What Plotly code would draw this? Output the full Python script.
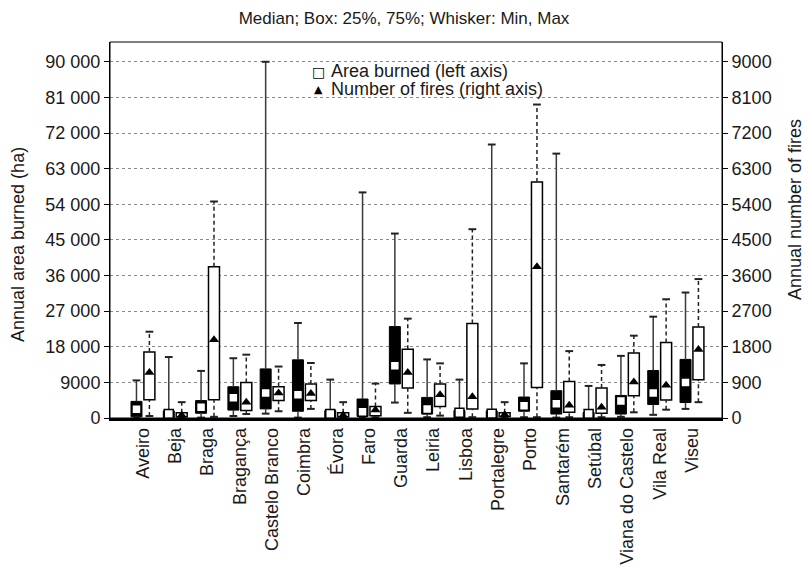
import plotly.graph_objects as go

# ---------------- data ----------------
provinces = ["Aveiro", "Beja", "Braga", "Bragança", "Castelo Branco", "Coimbra",
             "Évora", "Faro", "Guarda", "Leiria", "Lisboa", "Portalegre", "Porto",
             "Santarém", "Setúbal", "Viana do Castelo", "Vila Real", "Viseu"]

# Annual area burned (ha) – left axis
area_min = [100, 0, 100, 500, 1100, 100, 0, 100, 3900, 200, 0, 0, 200, 100, 0, 300, 800, 2300]
area_q1 = [300, 100, 1200, 2000, 2300, 1700, 50, 400, 8600, 1000, 100, 100, 1700, 1000, 100, 1000, 3400, 3900]
area_med = [2200, 1000, 2700, 5100, 6300, 5900, 1000, 1600, 13200, 2300, 1300, 1100, 3100, 3600, 1000, 4300, 6300, 9000]
area_q3 = [4200, 1800, 4400, 7900, 12400, 14700, 1900, 4800, 23100, 5200, 1900, 1800, 5300, 6900, 1400, 5700, 12000, 14800]
area_max = [9500, 15400, 11900, 15100, 90000, 24000, 9700, 57000, 46600, 14800, 9700, 69100, 13800, 66800, 8100, 15700, 25600, 31700]

# Annual number of fires – right axis
fires_min = [50, 10, 30, 100, 170, 230, 10, 20, 130, 60, 20, 10, 20, 20, 20, 144, 210, 400]
fires_q1 = [460, 30, 460, 190, 440, 440, 30, 60, 760, 290, 230, 40, 770, 144, 120, 565, 456, 965]
fires_med = [1150, 70, 1980, 400, 630, 620, 70, 200, 1150, 590, 540, 80, 3820, 320, 270, 910, 830, 1730]
fires_q3 = [1670, 130, 3820, 900, 790, 860, 130, 290, 1740, 860, 2390, 130, 5960, 925, 760, 1640, 1908, 2300]
fires_max = [2180, 400, 5470, 1600, 1300, 1390, 400, 870, 2510, 1380, 4770, 400, 7920, 1690, 1340, 2080, 3000, 3510]

left_ticks = [0, 9000, 18000, 27000, 36000, 45000, 54000, 63000, 72000, 81000, 90000]
left_ticktext = ["0", "9000", "18 000", "27 000", "36 000", "45 000", "54 000",
                 "63 000", "72 000", "81 000", "90 000"]
right_ticks = [0, 900, 1800, 2700, 3600, 4500, 5400, 6300, 7200, 8100, 9000]
right_ticktext = ["0", "900", "1800", "2700", "3600", "4500", "5400", "6300", "7200", "8100", "9000"]

# ---------------- styling ----------------
FONT = "Liberation Sans, Arial, Helvetica, sans-serif"
TXT = "#1a1a1a"
OFF = 0.2      # offset of each box from the category centre
BW = 0.34      # box width
CAP = 0.12     # half-width of whisker caps

idx = list(range(len(provinces)))
xa = [i - OFF for i in idx]
xf = [i + OFF for i in idx]


def whiskers(xs, lo, q1, q3, hi):
    X, Y = [], []
    for x, a, b, c, d in zip(xs, lo, q1, q3, hi):
        X += [x, x, None, x, x, None]
        Y += [a, b, None, c, d, None]
    return X, Y


def caps(xs, lo, hi):
    X, Y = [], []
    for x, a, d in zip(xs, lo, hi):
        X += [x - CAP, x + CAP, None, x - CAP, x + CAP, None]
        Y += [d, d, None, a, a, None]
    return X, Y


fig = go.Figure()

# ---- area burned (left axis): black boxes, solid whiskers, white square median
fig.add_trace(go.Bar(x=xa, y=[c - b for b, c in zip(area_q1, area_q3)], base=area_q1,
                     width=BW, marker=dict(color="black", line=dict(color="black", width=1)),
                     showlegend=False, hoverinfo="skip"))
wx, wy = whiskers(xa, area_min, area_q1, area_q3, area_max)
fig.add_trace(go.Scatter(x=wx, y=wy, mode="lines", line=dict(color="#3a3a3a", width=1.5),
                         showlegend=False, hoverinfo="skip"))
cx, cy = caps(xa, area_min, area_max)
fig.add_trace(go.Scatter(x=cx, y=cy, mode="lines", line=dict(color="#222", width=2),
                         showlegend=False, hoverinfo="skip"))
fig.add_trace(go.Scatter(x=xa, y=area_med, mode="markers", cliponaxis=False,
                         marker=dict(symbol="square", size=9, color="white",
                                     line=dict(color="black", width=1.5)),
                         showlegend=False))

# ---- number of fires (right axis): white boxes, dashed whiskers, triangle median
fig.add_trace(go.Bar(x=xf, y=[c - b for b, c in zip(fires_q1, fires_q3)], base=fires_q1,
                     width=BW, yaxis="y2",
                     marker=dict(color="white", line=dict(color="black", width=1.5)),
                     showlegend=False, hoverinfo="skip"))
wx, wy = whiskers(xf, fires_min, fires_q1, fires_q3, fires_max)
fig.add_trace(go.Scatter(x=wx, y=wy, mode="lines", yaxis="y2",
                         line=dict(color="#222", width=1.5, dash="4px,3px"),
                         showlegend=False, hoverinfo="skip"))
cx, cy = caps(xf, fires_min, fires_max)
fig.add_trace(go.Scatter(x=cx, y=cy, mode="lines", yaxis="y2",
                         line=dict(color="#222", width=2),
                         showlegend=False, hoverinfo="skip"))
fig.add_trace(go.Scatter(x=xf, y=fires_med, mode="markers", yaxis="y2", cliponaxis=False,
                         marker=dict(symbol="triangle-up", size=9, color="black"),
                         showlegend=False))

fig.update_layout(
    width=808, height=565,
    margin=dict(l=110, r=86, t=42, b=147, autoexpand=False),
    paper_bgcolor="white", plot_bgcolor="white",
    font=dict(family=FONT, size=18, color=TXT),
    barmode="overlay",
    showlegend=False,
    title=dict(text="Median; Box: 25%, 75%; Whisker: Min, Max",
               x=0.5, xref="container", xanchor="center",
               y=1 - 18 / 565, yref="container", yanchor="middle",
               font=dict(family=FONT, size=17, color=TXT)),
    xaxis=dict(range=[-1.02, 17.93], tickmode="array", tickvals=idx, ticktext=provinces,
               tickangle=-90, showgrid=False, zeroline=False, ticks="", automargin=False,
               showline=True, linecolor="black", linewidth=2.5,
               tickfont=dict(family=FONT, size=18, color=TXT)),
    yaxis=dict(range=[0, 95000], tickmode="array", tickvals=left_ticks, ticktext=left_ticktext,
               showgrid=True, gridcolor="#8a8a8a", griddash="dot", gridwidth=1,
               zeroline=False, ticks="outside", ticklen=5, tickcolor="black", automargin=False,
               showline=True, linecolor="black", linewidth=1,
               tickfont=dict(family=FONT, size=18, color=TXT)),
    yaxis2=dict(range=[0, 9500], overlaying="y", side="right", tickmode="array",
                tickvals=right_ticks, ticktext=right_ticktext, automargin=False,
                showgrid=False, zeroline=False, ticks="outside", ticklen=5, tickcolor="black",
                showline=True, linecolor="black", linewidth=1,
                tickfont=dict(family=FONT, size=18, color=TXT)),
    shapes=[dict(type="rect", xref="paper", yref="paper", x0=0, x1=1, y0=0, y1=1,
                 line=dict(color="black", width=1), layer="above")],
    annotations=[
        dict(text="Annual area burned (ha)", xref="paper", yref="paper",
             x=(18 - 110) / 612, y=(418 - 245) / 376, textangle=-90,
             xanchor="center", yanchor="middle", showarrow=False,
             font=dict(family=FONT, size=18, color=TXT)),
        dict(text="Annual number of fires", xref="paper", yref="paper",
             x=(795 - 110) / 612, y=(418 - 210) / 376, textangle=-90,
             xanchor="center", yanchor="middle", showarrow=False,
             font=dict(family=FONT, size=18, color=TXT)),
        dict(text="□", xref="paper", yref="paper",
             x=(318 - 110) / 612, y=(418 - 72) / 376,
             xanchor="center", yanchor="middle", showarrow=False,
             font=dict(family="DejaVu Sans", size=14, color="black")),
        dict(text="Area burned (left axis)", xref="paper", yref="paper",
             x=(329 - 110) / 612, y=(418 - 71) / 376,
             xanchor="left", yanchor="middle", showarrow=False,
             font=dict(family=FONT, size=18, color=TXT)),
        dict(text="▲", xref="paper", yref="paper",
             x=(318 - 110) / 612, y=(418 - 89) / 376,
             xanchor="center", yanchor="middle", showarrow=False,
             font=dict(family="DejaVu Sans", size=11, color="black")),
        dict(text="Number of fires (right axis)", xref="paper", yref="paper",
             x=(329 - 110) / 612, y=(418 - 89) / 376,
             xanchor="left", yanchor="middle", showarrow=False,
             font=dict(family=FONT, size=18, color=TXT)),
    ],
)

fig.write_html("out.html")
